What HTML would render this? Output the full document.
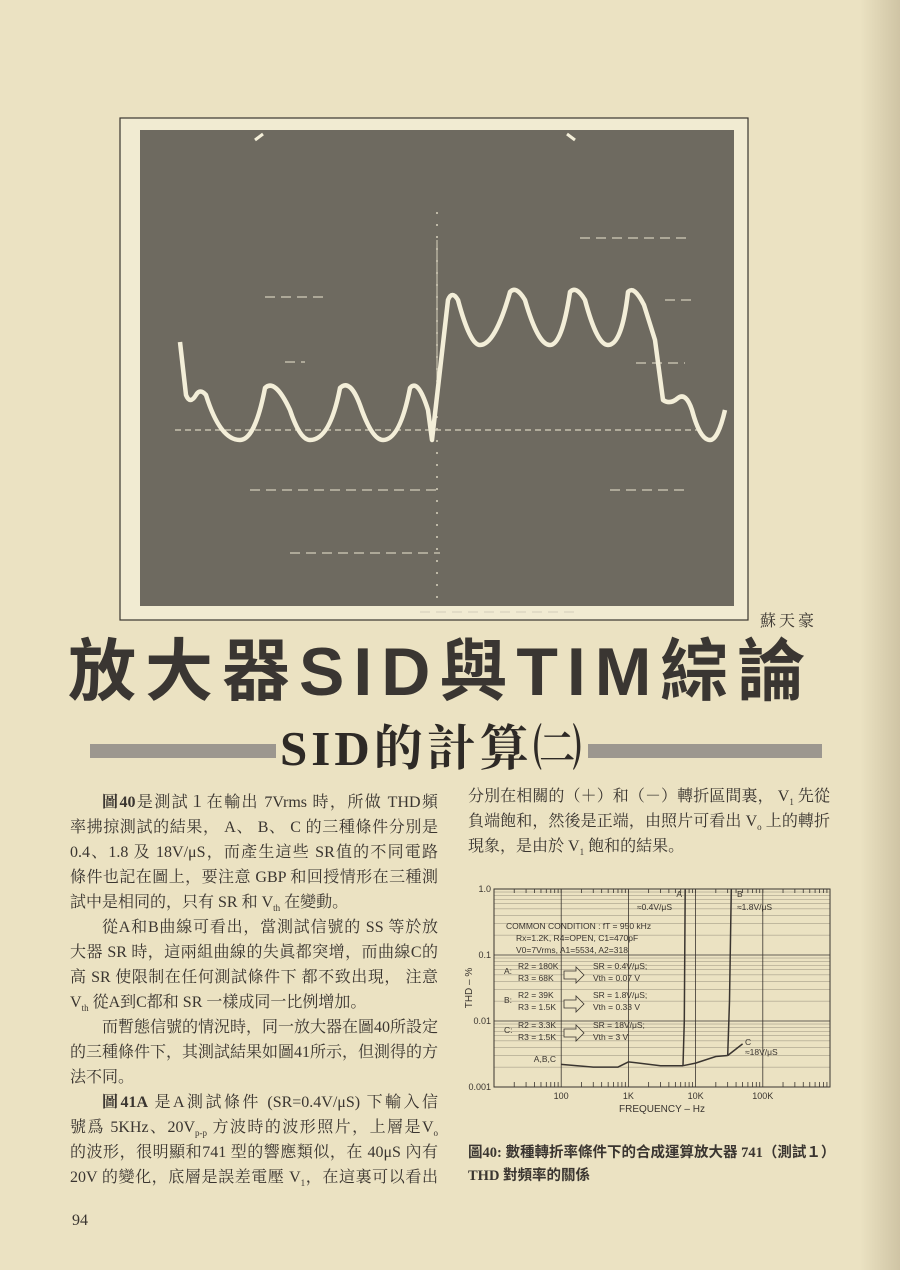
<!DOCTYPE html>
<html><head><meta charset="utf-8">
<style>
body{margin:0;}
#page{position:relative;width:900px;height:1270px;background:#ebe2c2;overflow:hidden;font-family:"Liberation Serif","Noto Serif CJK SC",serif;color:#3a3530;}
.edge{position:absolute;right:0;top:0;width:40px;height:1270px;background:linear-gradient(to right,rgba(0,0,0,0),rgba(80,60,30,0.18));}
.ln{position:absolute;font-size:16px;height:22px;line-height:22px;white-space:nowrap;text-align:justify;text-align-last:justify;}
.ln.s{text-align-last:left;}
.cap{position:absolute;font-size:14.5px;font-weight:bold;white-space:nowrap;font-family:"Liberation Serif","Noto Sans CJK TC",serif;}
</style></head><body>
<div id="page">
<div class="edge"></div>

<svg style="position:absolute;left:0;top:0" width="900" height="640">
 <rect x="120" y="118" width="628" height="502" fill="#f1ebd2" stroke="#3a3530" stroke-width="1.2"/>
 <rect x="140" y="130" width="594" height="476" fill="#6e6a60"/>
 <g stroke="#d8d2bd" stroke-width="1.5" stroke-dasharray="10 6" opacity="0.8">
  <line x1="265" y1="297" x2="325" y2="297"/><line x1="580" y1="238" x2="690" y2="238"/>
  <line x1="665" y1="300" x2="695" y2="300"/><line x1="285" y1="362" x2="305" y2="362"/>
  <line x1="636" y1="363" x2="685" y2="363"/><line x1="250" y1="490" x2="440" y2="490"/>
  <line x1="610" y1="490" x2="690" y2="490"/><line x1="290" y1="553" x2="440" y2="553"/>
  <line x1="420" y1="612" x2="575" y2="612"/>
 </g>
 <line x1="437" y1="212" x2="437" y2="605" stroke="#d8d2bd" stroke-width="1.5" stroke-dasharray="2 10"/>
 <line x1="437" y1="240" x2="437" y2="400" stroke="#d8d2bd" stroke-width="1"/>
 <line x1="175" y1="430" x2="700" y2="430" stroke="#d8d2bd" stroke-width="1.3" stroke-dasharray="6 4"/>
 <path d="M180,342 L186,395 Q190,405 196,395 Q200,388 206,395 Q220,440 240,440 Q255,440 265,388 Q275,378 290,410 Q300,440 310,440 Q330,440 340,388 Q350,378 360,405 Q372,440 383,440 Q400,440 410,388 Q418,378 428,410 L432,440 L448,300 Q452,290 458,300 Q470,345 480,345 Q495,345 510,292 Q516,285 525,300 Q538,345 550,345 Q562,345 570,292 Q576,285 585,300 Q597,345 608,345 Q622,345 628,292 Q634,285 644,305 L655,340 L663,400 Q670,405 678,398 Q686,392 692,410 Q700,440 710,440 Q718,440 725,410" fill="none" stroke="#f3eed8" stroke-width="4.5" stroke-linejoin="round"/>
 <path d="M255,140 l8,-6 M575,140 l-8,-6" stroke="#f3eed8" stroke-width="3"/>
</svg>

<div style="position:absolute;left:760px;top:608px;font-size:16px;letter-spacing:3px;">蘇天豪</div>
<div style="position:absolute;left:68px;top:630px;width:800px;font-family:'Liberation Sans','Noto Sans CJK TC',sans-serif;font-weight:bold;font-size:68px;line-height:84px;color:#3a3632;white-space:nowrap;letter-spacing:9px;">放大器SID與TIM綜論</div>
<div style="position:absolute;left:90px;top:744px;width:186px;height:14px;background:#9c978f;"></div>
<div style="position:absolute;left:588px;top:744px;width:234px;height:14px;background:#9c978f;"></div>
<div style="position:absolute;left:280px;top:720px;font-size:49px;font-weight:bold;line-height:58px;white-space:nowrap;letter-spacing:4px;font-family:'Liberation Serif','Noto Serif CJK SC',serif;color:#2e2a26;">SID的計算㈡</div>

<div>
<div class="ln" style="left:70px;top:792px;width:368px;padding-left:32px;box-sizing:border-box;"><b>圖40</b>是測試１在輸出 7Vrms 時，所做 THD頻</div>
<div class="ln" style="left:70px;top:817px;width:368px;">率拂掠測試的結果， A、 B、 C 的三種條件分別是</div>
<div class="ln" style="left:70px;top:842px;width:368px;">0.4、1.8 及 18V/μS，而產生這些 SR值的不同電路</div>
<div class="ln" style="left:70px;top:867px;width:368px;">條件也記在圖上，要注意 GBP 和回授情形在三種測</div>
<div class="ln s" style="left:70px;top:892px;width:368px;">試中是相同的，只有 SR 和 V<sub style="font-size:9px">th</sub> 在變動。</div>
<div class="ln" style="left:70px;top:917px;width:368px;padding-left:32px;box-sizing:border-box;">從A和B曲線可看出，當測試信號的 SS 等於放</div>
<div class="ln" style="left:70px;top:942px;width:368px;">大器 SR 時，這兩組曲線的失眞都突增，而曲線C的</div>
<div class="ln" style="left:70px;top:967px;width:368px;">高 SR 使限制在任何測試條件下 都不致出現， 注意</div>
<div class="ln s" style="left:70px;top:992px;width:368px;">V<sub style="font-size:9px">th</sub> 從A到C都和 SR 一樣成同一比例增加。</div>
<div class="ln" style="left:70px;top:1017px;width:368px;padding-left:32px;box-sizing:border-box;">而暫態信號的情況時，同一放大器在圖40所設定</div>
<div class="ln" style="left:70px;top:1042px;width:368px;">的三種條件下，其測試結果如圖41所示，但測得的方</div>
<div class="ln s" style="left:70px;top:1067px;width:368px;">法不同。</div>
<div class="ln" style="left:70px;top:1092px;width:368px;padding-left:32px;box-sizing:border-box;"><b>圖41A</b> 是A測試條件 (SR=0.4V/μS) 下輸入信</div>
<div class="ln" style="left:70px;top:1117px;width:368px;">號爲 5KHz、20V<sub style="font-size:9px">p-p</sub> 方波時的波形照片，上層是V<sub style="font-size:9px">o</sub></div>
<div class="ln" style="left:70px;top:1142px;width:368px;">的波形，很明顯和741 型的響應類似，在 40μS 內有</div>
<div class="ln" style="left:70px;top:1167px;width:368px;">20V 的變化，底層是誤差電壓 V<sub style="font-size:9px">1</sub>，在這裏可以看出</div>
</div>

<div>
<div class="ln" style="left:468px;top:786px;width:362px;">分別在相關的（＋）和（－）轉折區間裏， V<sub style="font-size:9px">1</sub> 先從</div>
<div class="ln" style="left:468px;top:811px;width:362px;">負端飽和，然後是正端，由照片可看出 V<sub style="font-size:9px">o</sub> 上的轉折</div>
<div class="ln s" style="left:468px;top:836px;width:362px;">現象，是由於 V<sub style="font-size:9px">1</sub> 飽和的結果。</div>
</div>

<svg id="chart" style="position:absolute;left:0;top:0" width="900" height="1270"></svg>

<div class="cap" style="left:468px;top:1141px;">圖40: 數種轉折率條件下的合成運算放大器 741（測試１）</div>
<div class="cap" style="left:468px;top:1164px;">THD 對頻率的關係</div>
<div style="position:absolute;left:72px;top:1212px;font-size:16px;">94</div>
</div>

<script>
const xTickLabels = ["100","1K","10K","100K"];
const xTickValues = [100,1000,10000,100000];
const yTickLabels = ["1.0","0.1","0.01","0.001"];
const yTickValues = [1,0.1,0.01,0.001];
const commonFreq = [100,300,700,1000,3000,6500];
const commonTHD  = [0.0022,0.0020,0.0020,0.0024,0.0021,0.0021];
const curveAFreq = [6500,6800,7000];
const curveATHD  = [0.0021,0.01,1.0];
const curveBCFreq = [6500,10000,20000,30000];
const curveBCTHD  = [0.0021,0.0023,0.0029,0.003];
const curveBFreq = [30000,32000,34000];
const curveBTHD  = [0.003,0.02,1.0];
const curveCFreq = [30000,50000];
const curveCTHD  = [0.003,0.0045];

const svg=document.getElementById('chart');
const NS='http://www.w3.org/2000/svg';
const X0=494,X1=830,Y0=1087,Y1=889;
const fx=f=>X0+(Math.log10(f)-1)/5*(X1-X0);
const fy=v=>Y0+(Math.log10(v)+3)/3*(Y1-Y0);
function mk(tag,attrs,txt){const e=document.createElementNS(NS,tag);for(const k in attrs)e.setAttribute(k,attrs[k]);if(txt!==undefined)e.textContent=txt;svg.appendChild(e);return e;}
const ink='#3a3530';
let fr=mk('rect',{x:X0,y:Y1,width:X1-X0,height:Y0-Y1,fill:'none',stroke:ink,'stroke-width':1});


for(let d=1;d<=5;d++){for(let m=1;m<10;m++){const f=Math.pow(10,d)*m;if(f>1e6)break;const x=fx(f);
 if(m===1){const g=mk('line',{x1:x,y1:Y1,x2:x,y2:Y0,stroke:ink,'stroke-width':0.8});
  
  }
 mk('line',{x1:x,y1:Y0,x2:x,y2:Y0-(m===1?0:5),stroke:ink,'stroke-width':0.8});
 mk('line',{x1:x,y1:Y1,x2:x,y2:Y1+4,stroke:ink,'stroke-width':0.8});}}
for(let d=-3;d<0;d++){for(let m=1;m<10;m++){const v=Math.pow(10,d)*m;const y=fy(v);
 const g=mk('line',{x1:X0,y1:y,x2:X1,y2:y,stroke:ink,'stroke-width':m===1?0.8:0.4,opacity:m===1?1:0.6});
 
 }}
xTickLabels.forEach((l,i)=>{const t=mk('text',{x:fx(xTickValues[i]),y:Y0+12,'font-size':9,'text-anchor':'middle',fill:ink,'font-family':'Liberation Sans,sans-serif'},l);
 
 });
yTickLabels.forEach((l,i)=>{const t=mk('text',{x:X0-3,y:fy(yTickValues[i])+3,'font-size':9,'text-anchor':'end',fill:ink,'font-family':'Liberation Sans,sans-serif'},l);
 
 });
let xt=mk('text',{x:662,y:1112,'font-size':10,'text-anchor':'middle',fill:ink,'font-family':'Liberation Sans,sans-serif'},'FREQUENCY – Hz');


let yt=mk('text',{x:0,y:0,'font-size':10,'text-anchor':'middle',fill:ink,'font-family':'Liberation Sans,sans-serif',transform:'translate(472,988) rotate(-90)'},'THD – %');


function curve(fs,vs,name){const d=fs.map((f,i)=>(i?'L':'M')+fx(f).toFixed(1)+','+fy(vs[i]).toFixed(1)).join(' ');
 const p=mk('path',{d:d,fill:'none',stroke:ink,'stroke-width':1.5});
 
 }
curve(commonFreq,commonTHD,'curve-abc-common');
curve(curveAFreq,curveATHD,'curve-a');
curve(curveBCFreq,curveBCTHD,'curve-bc');
curve(curveBFreq,curveBTHD,'curve-b');
curve(curveCFreq,curveCTHD,'curve-c');
const notes=[[682,897,'A','end'],[672,910,'≈0.4V/μS','end'],[737,897,'B','start'],[737,910,'≈1.8V/μS','start'],
[506,929,'COMMON CONDITION : fT = 950 kHz','start'],[516,941,'Rx=1.2K, R4=OPEN, C1=470pF','start'],[516,953,'V0=7Vrms, A1=5534, A2=318','start'],
[504,974,'A:','start'],[518,969,'R2 = 180K','start'],[518,981,'R3 = 68K','start'],[593,969,'SR = 0.4V/μS;','start'],[593,981,'Vth = 0.07 V','start'],
[504,1003,'B:','start'],[518,998,'R2 = 39K','start'],[518,1010,'R3 = 1.5K','start'],[593,998,'SR = 1.8V/μS;','start'],[593,1010,'Vth = 0.33 V','start'],
[504,1033,'C:','start'],[518,1028,'R2 = 3.3K','start'],[518,1040,'R3 = 1.5K','start'],[593,1028,'SR = 18V/μS;','start'],[593,1040,'Vth = 3 V','start'],
[556,1062,'A,B,C','end'],[745,1045,'C','start'],[745,1055,'≈18V/μS','start']];
notes.forEach(n=>{const t=mk('text',{x:n[0],y:n[1],'font-size':8.5,'text-anchor':n[3],fill:ink,'font-family':'Liberation Sans,sans-serif'},n[2]);
 
 });
[975,1004,1033].forEach(y=>{const a=mk('path',{d:`M564,${y-4} h12 v-4 l8,8 l-8,8 v-4 h-12 z`,fill:'#ebe2c2',stroke:ink,'stroke-width':0.8});
 
 });
</script>
</body></html>
